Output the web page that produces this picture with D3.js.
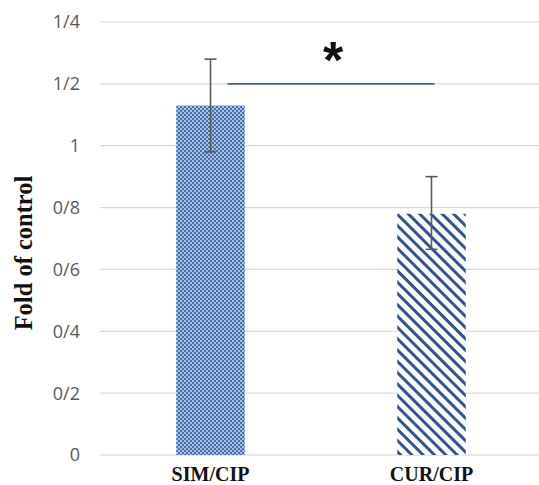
<!DOCTYPE html>
<html><head><meta charset="utf-8">
<script src="https://cdn.jsdelivr.net/npm/d3@7"></script>
<style>html,body{margin:0;padding:0;background:#fff;}</style>
</head><body>
<script>
const categories = ["SIM/CIP", "CUR/CIP"];
const values = [1.13, 0.78];
const errUpper = [1.28, 0.90];
const errLower = [0.98, 0.665];
const tickValues = [0, 0.2, 0.4, 0.6, 0.8, 1.0, 1.2, 1.4];
const tickLabels = ["0", "0/2", "0/4", "0/6", "0/8", "1", "1/2", "1/4"];
const sigLevel = 1.2;
const sigText = "*";
const yTitle = "Fold of control";

const W = 539, H = 485;
const svg = d3.select("body").append("svg").attr("width", W).attr("height", H);
const defs = svg.append("defs");

// checker pattern
const p1 = defs.append("pattern").attr("id","checker").attr("patternUnits","userSpaceOnUse")
  .attr("width",4).attr("height",4);
p1.append("rect").attr("width",4).attr("height",4).attr("fill","#466da8");
p1.append("rect").attr("x",0).attr("y",0).attr("width",2).attr("height",2).attr("fill","#a8c2e6");
p1.append("rect").attr("x",2).attr("y",2).attr("width",2).attr("height",2).attr("fill","#a8c2e6");

// diagonal stripes (down-right)
const p2 = defs.append("pattern").attr("id","stripes").attr("patternUnits","userSpaceOnUse")
  .attr("width",8).attr("height",8).attr("patternTransform","rotate(-45)");
p2.append("rect").attr("width",8).attr("height",8).attr("fill","#ffffff");
p2.append("rect").attr("x",0).attr("y",0).attr("width",3).attr("height",8).attr("fill","#2f558f");

const x = d3.scaleBand().domain(categories).range([100, 542]).paddingInner(0.69).paddingOuter(0.345);
const y = d3.scaleLinear().domain([0, 1.4]).range([455, 22]);

// gridlines
svg.append("g").selectAll("line").data(tickValues).join("line")
  .attr("x1", 100).attr("x2", W)
  .attr("y1", d => y(d)).attr("y2", d => y(d))
  .attr("stroke", d => d === 0 ? "#cfcfcf" : "#dadada").attr("stroke-width", 1.2);

// y tick labels
svg.append("g").selectAll("text").data(tickValues).join("text")
  .attr("x", 80).attr("y", d => y(d)).attr("dy", "0.36em")
  .attr("text-anchor", "end")
  .attr("font-family", "'Open Sans', 'Liberation Sans', sans-serif")
  .attr("font-size", 18).attr("fill", "#595959")
  .text((d,i) => tickLabels[i]);

// bars
const fills = ["url(#checker)", "url(#stripes)"];
svg.append("g").selectAll("rect").data(categories).join("rect")
  .attr("x", d => x(d)).attr("width", x.bandwidth())
  .attr("y", (d,i) => y(values[i])).attr("height", (d,i) => y(0) - y(values[i]))
  .attr("fill", (d,i) => fills[i]);

// error bars
const eg = svg.append("g").attr("stroke", "#5a5a5a").attr("stroke-width", 1.6);
categories.forEach((c,i) => {
  const cx = x(c) + x.bandwidth()/2;
  eg.append("line").attr("x1", cx).attr("x2", cx).attr("y1", y(errUpper[i])).attr("y2", y(errLower[i]));
  eg.append("line").attr("x1", cx-6).attr("x2", cx+6).attr("y1", y(errUpper[i])).attr("y2", y(errUpper[i]));
  eg.append("line").attr("x1", cx-6).attr("x2", cx+6).attr("y1", y(errLower[i])).attr("y2", y(errLower[i]));
});

// significance line
const sx1 = x(categories[0]) + x.bandwidth()/2 + 17;
const sx2 = x(categories[1]) + x.bandwidth()/2 + 3;
svg.append("line").attr("x1", sx1).attr("x2", sx2).attr("y1", y(sigLevel)).attr("y2", y(sigLevel))
  .attr("stroke", "#41649a").attr("stroke-width", 1.6);
svg.append("text").attr("x", (sx1 + sx2)/2 + 2).attr("y", y(sigLevel) - 6)
  .attr("text-anchor", "middle").attr("font-family", "'Liberation Sans', sans-serif")
  .attr("font-weight", "bold").attr("font-size", 52).attr("fill", "#111").text(sigText);

// x labels
svg.append("g").selectAll("text").data(categories).join("text")
  .attr("x", d => x(d) + x.bandwidth()/2).attr("y", 481)
  .attr("text-anchor", "middle")
  .attr("font-family", "'Liberation Serif', serif").attr("font-weight", "bold")
  .attr("font-size", 20).attr("fill", "#111").text(d => d);

// y title
svg.append("text").attr("transform", "translate(32,253) rotate(-90)")
  .attr("text-anchor", "middle")
  .attr("font-family", "'Liberation Serif', serif").attr("font-weight", "bold")
  .attr("font-size", 24.5).attr("fill", "#111").text(yTitle);
</script>
</body></html>
